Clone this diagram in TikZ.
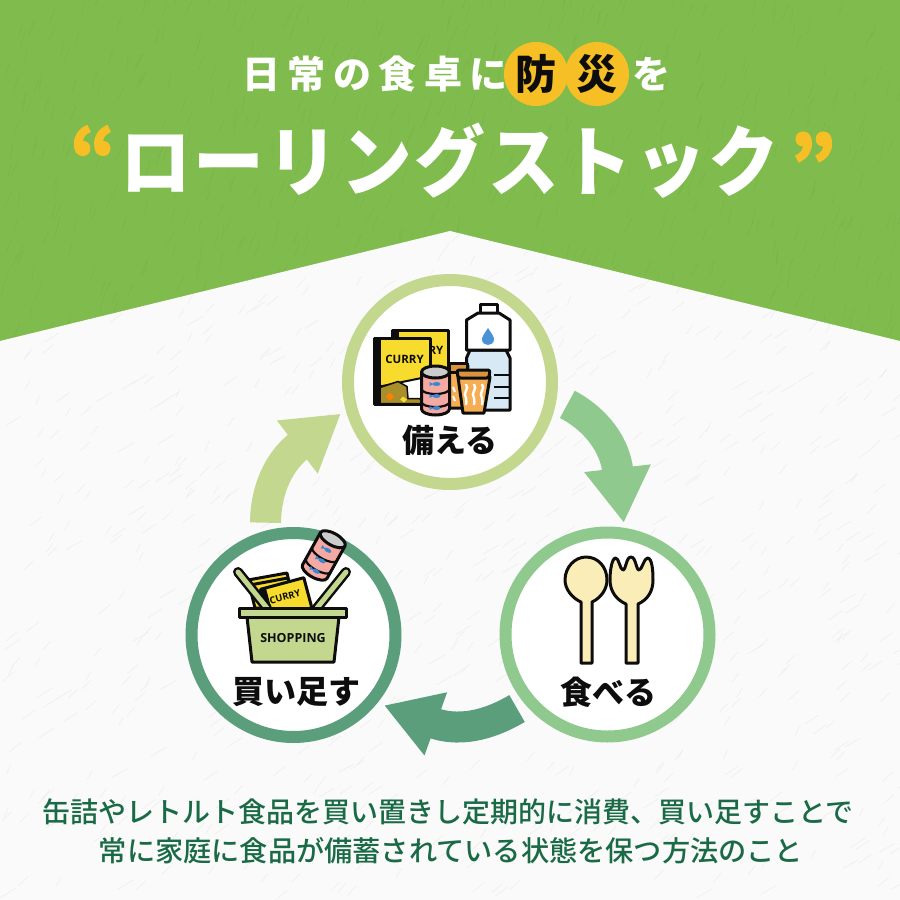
\documentclass[tikz,border=0pt]{standalone}
\usepackage{fontspec}
\usepackage{xcolor}
\newfontfamily\jpblack{Noto Sans CJK JP Black}
\newfontfamily\jpmedium{Noto Sans CJK JP Medium}
\newfontfamily\boxfont{Open Sans}
\usetikzlibrary{arrows.meta, calc}

\definecolor{leafgreen}{HTML}{7FBB4D}
\definecolor{paper}{HTML}{FAFAFB}
\definecolor{ink}{HTML}{0D0D0D}
\definecolor{stockcol}{HTML}{C3D78F}
\definecolor{eatcol}{HTML}{8FC98E}
\definecolor{buycol}{HTML}{5A9E7C}
\definecolor{amber}{HTML}{F6BF26}
\definecolor{textgreen}{HTML}{1A6B45}
\definecolor{boxyellow}{HTML}{F7DC2E}
\definecolor{canpink}{HTML}{F4A9A3}
\definecolor{fishblue}{HTML}{3C87CF}
\definecolor{cuporange}{HTML}{F6AE55}
\definecolor{cupbrown}{HTML}{D9923D}
\definecolor{currybrown}{HTML}{A88F2C}
\definecolor{woodcol}{HTML}{FAEDB8}
\definecolor{watercol}{HTML}{D6E9F5}

\tikzset{
	ring/.style={circle, draw=#1, line width=12pt, fill=white, minimum size=204pt, inner sep=0pt},
	cyclearrow/.style={draw=#1, line width=31pt, -{Triangle[length=55pt,width=63pt,fill=#1]}},
	outline/.style={draw=ink, line width=3pt, line join=round},
	steptext/.style={font=\jpblack\fontsize{32}{36}\selectfont, text=ink},
	bodytext/.style={font=\jpmedium\fontsize{28}{32}\selectfont, text=textgreen},
	amberdot/.style={circle, fill=amber, minimum size=64pt, inner sep=0pt, font=\jpblack\fontsize{41}{44}\selectfont, text=ink},
	quotemark/.style={font=\jpblack\fontsize{72}{76}\selectfont\addfontfeature{FakeBold=2.5}, text=amber},
	boxlabel/.style={font=\boxfont\bfseries\fontsize{11.5}{13}\selectfont, text=ink, inner sep=0pt},
	tincan/.pic={
		\filldraw[outline, fill=canpink] (-14,-18) -- (-14,19) arc (180:360:14pt and 6pt) -- (14,-18) -- cycle;
		\foreach \y in {-1,12}
		{
			\draw[ink, line width=2.2pt] (-14,\y) arc (180:360:14pt and 5pt);
		}
		\filldraw[outline, fill=gray!40] (0,-18) ellipse (14pt and 6pt);
		\foreach \y in {-6,6,18}
		{
			\fill[fishblue] (1,\y) ellipse (4pt and 2pt);
			\fill[fishblue] (-2,\y) -- (-6,{\y-2}) -- (-6,{\y+2}) -- cycle;
		}
	},
	currybox/.pic={
		\filldraw[outline, fill=ink] (-28,-33) rectangle (-23,33);
		\filldraw[outline, fill=boxyellow] (-23,-33) rectangle (28,33);
		\fill[white] (-22,15) -- (27,5) -- (27,32) -- (-22,32) -- cycle;
		\draw[ink, line width=2pt] (-22,15) -- (27,5);
		\filldraw[fill=currybrown, draw=ink, line width=1.5pt] (-22,16) -- (-4,10) -- (5,15) -- (6,27) -- (18,27) -- (20,32) -- (-22,32) -- cycle;
		\fill[orange] (-12,21) -- (-8,25) -- (-12,29) -- (-16,25) -- cycle;
		\fill[boxyellow] (1,25) -- (5,28) -- (2,31) -- (-2,28) -- cycle;
	}
}

\begin{document}
\begin{tikzpicture}[x=1pt, y=-1pt]
	\useasboundingbox (0,0) rectangle (900,900);
	\pgfmathsetseed{11}

	% background
	\fill[leafgreen] (0,0) rectangle (900,900);
	\foreach \i in {1,...,600}
	{
		\pgfmathsetmacro\px{rnd*900}
		\pgfmathsetmacro\py{rnd*340}
		\pgfmathsetmacro\dx{rnd*5+2}
		\draw[leafgreen!90!black, line width=0.5pt, opacity=0.35] (\px,\py) -- ++(\dx,-14);
	}
	\fill[paper] (0,341) -- (450,231) -- (900,341) -- (900,900) -- (0,900) -- cycle;
	\begin{scope}
		\clip (0,341) -- (450,231) -- (900,341) -- (900,900) -- (0,900) -- cycle;
		\foreach \i in {1,...,800}
		{
			\pgfmathsetmacro\px{rnd*900}
			\pgfmathsetmacro\py{rnd*670+230}
			\pgfmathsetmacro\dx{rnd*12+4}
			\draw[black!9, line width=0.7pt, opacity=0.6] (\px,\py) -- ++(\dx,-9);
		}
	\end{scope}

	% heading
	\node[font=\jpblack\fontsize{38}{42}\selectfont\addfontfeature{LetterSpace=20}, text=white] (headleft) at (375,74) {日常の食卓に};
	\node[amberdot] (bousai) at (536,74) {防};
	\node[amberdot] (saigai) at (597,74) {災};
	\node[font=\jpblack\fontsize{38}{42}\selectfont, text=white] (headright) at (651,74) {を};
	\node[font=\jpblack\fontsize{70}{74}\selectfont\addfontfeature{LetterSpace=4}, text=white, xscale=1.01, yscale=1.1, transform shape] (rolling) at (450,161) {ローリングストック};
	\node[quotemark] (quoteleft) at (93,154) {“};
	\node[quotemark] (quoteright) at (813,161) {”};

	% the three rings
	\node[ring=stockcol] (stock) at (450,382) {};
	\node[ring=eatcol] (eat) at (607.5,634.5) {};
	\node[ring=buycol] (buy) at (293.5,635) {};

	\node[steptext] (stocklabel) at (450,440) {備える};
	\node[steptext] (eatlabel) at (608,692) {食べる};
	\node[steptext] (buylabel) at (296,692) {買い足す};

	% arrows between the rings
	\draw[cyclearrow=eatcol, shorten <=12pt, shorten >=5pt] (stock.-9) .. controls (588,415) and (614,438) .. (eat.81);
	\draw[cyclearrow=buycol, shorten <=9pt, shorten >=7pt] (eat.-140) .. controls (496,721) and (464,734) .. (buy.-39);
	\draw[cyclearrow=stockcol, shorten <=8pt, shorten >=6pt] (buy.105) .. controls (265.5,498) and (274,465) .. (stock.195);

	% stock picture
	\begin{scope}
		\pic at (420,363) {currybox};
		\node[boxlabel] (backcurry) at (436,350) {RY};
		\pic at (402,371.5) {currybox};
		\node[boxlabel] (frontcurry) at (404.5,359) {CURRY};
		% water bottle
		\filldraw[outline, fill=white] (480,304) rectangle (497,313);
		\filldraw[outline, fill=watercol] (470,350) -- (506,350) -- (510,358) -- (510,410) -- (466.5,410) -- (466.5,358) -- cycle;
		\foreach \y in {375,387,398}
		{
			\draw[ink, line width=2pt] (494,\y) -- (510,\y);
		}
		\filldraw[outline, fill=white] (478,313) -- (499,313) -- (510,320) -- (510,350) -- (466.5,350) -- (466.5,320) -- cycle;
		\fill[cyan!60!blue!75] (488,328) .. controls (492,334) and (494,337) .. (494,339) .. controls (494,347) and (482,347) .. (482,339) .. controls (482,337) and (484,334) .. (488,328) -- cycle;
		% cups
		\filldraw[outline, fill=cuporange] (449,366) -- (468,366) -- (466,408) -- (449,408) -- cycle;
		\filldraw[outline, fill=cupbrown] (449,363) -- (467,363) -- (467,372) -- (449,372) -- cycle;
		\filldraw[outline, fill=cuporange] (458,377) -- (490,377) -- (484,413) -- (463,413) -- cycle;
		\filldraw[outline, fill=cupbrown, rounded corners=2pt] (457,370) -- (490,370) -- (489,378) -- (458,378) -- cycle;
		\foreach \x in {466,474,482}
		{
			\draw[white, line width=2.4pt] (\x,384) .. controls ({\x+4},389) and ({\x-4},393) .. (\x,398) .. controls ({\x+2},401) and ({\x-1},403) .. (\x,405);
		}
		\foreach \y in {387,396}
		{
			\draw[white, line width=2pt] (453,\y) -- (455,{\y+5});
		}
		\pic at (435.5,390) {tincan};
	\end{scope}

	% spoon and fork
	\begin{scope}
		\filldraw[outline, fill=woodcol] (581,602) -- (581,663) -- (592,663) -- (592,602) .. controls (601,598) and (607,589) .. (607,580) .. controls (607,567) and (598,557) .. (586,557) .. controls (575,557) and (565,567) .. (565,580) .. controls (565,589) and (572,598) .. (581,602) -- cycle;
		\filldraw[outline, fill=woodcol] (626,604) -- (626,663) -- (638,663) -- (638,604) .. controls (647,600) and (653,592) .. (653,580) .. controls (653,570) and (652,558) .. (647.5,558) .. controls (644,558) and (642,570) .. (639,570) .. controls (636,570) and (636,557) .. (631,557) .. controls (626,557) and (626,570) .. (623,570) .. controls (620,570) and (619,558) .. (615.7,558) .. controls (612,558) and (610,570) .. (610,580) .. controls (610,592) and (617,600) .. (626,604) -- cycle;
	\end{scope}

	% basket
	\begin{scope}
		\filldraw[outline, fill=boxyellow] (248,580) -- (287,573) -- (295,608) -- (255,608) -- cycle;
		\draw[ink, line width=3pt] (250,585) -- (288,578);
		\pic[rotate=15, scale=0.8] at (289,609) {currybox};
		\node[boxlabel, rotate=15, font=\boxfont\bfseries\fontsize{9.5}{11}\selectfont] (basketcurry) at (285,597) {CURRY};
		\pic[rotate=-29] at (324,555) {tincan};
		\draw[ink, line width=10pt, line cap=round] (238,572) -- (267,608);
		\draw[stockcol, line width=5pt, line cap=round] (238,572) -- (267,608);
		\draw[ink, line width=10pt, line cap=round] (346,572) -- (317,608);
		\draw[stockcol, line width=5pt, line cap=round] (346,572) -- (317,608);
		\filldraw[outline, fill=stockcol] (247,617) -- (339,617) -- (334,662) -- (252,662) -- cycle;
		\filldraw[outline, fill=stockcol] (239,608) rectangle (346,617);
		\node[boxlabel, font=\boxfont\bfseries\fontsize{12.5}{14}\selectfont] (shopping) at (293,638) {SHOPPING};
	\end{scope}

	% caption
	\node[bodytext] (captionone) at (448,812) {缶詰やレトルト食品を買い置きし定期的に消費、買い足すことで};
	\node[bodytext, font=\jpmedium\fontsize{28.2}{32}\selectfont] (captiontwo) at (451,851) {常に家庭に食品が備蓄されている状態を保つ方法のこと};
\end{tikzpicture}
\end{document}
